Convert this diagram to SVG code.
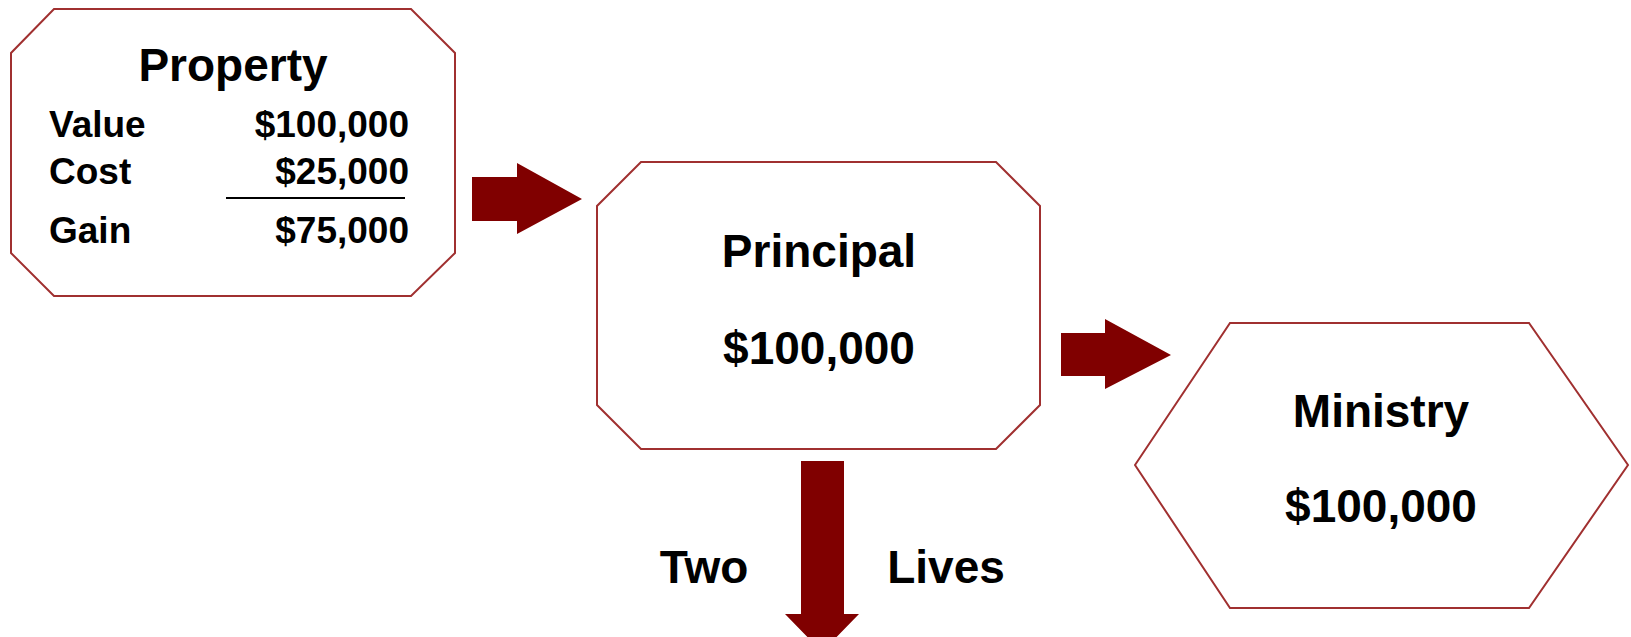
<svg xmlns="http://www.w3.org/2000/svg" width="1631" height="637" viewBox="0 0 1631 637">
<style>
.box{fill:#fff;stroke:#a03030;stroke-width:2}
.t{font-family:"Liberation Sans",Arial,sans-serif;font-weight:bold;fill:#000}
.big{font-size:46px}
.small{font-size:37px}
.arrow{fill:#800000}
</style>
<rect width="1631" height="637" fill="#fff"/>
<g id="property">
<polygon class="box" points="54,9 411,9 455,53 455,253 411,296 54,296 11,253 11,53"/>
<text class="t big" x="233" y="81" text-anchor="middle">Property</text>
<text class="t small" x="49" y="137">Value</text>
<text class="t small" x="409" y="137" text-anchor="end">$100,000</text>
<text class="t small" x="49" y="184">Cost</text>
<text class="t small" x="409" y="184" text-anchor="end">$25,000</text>
<line x1="226" y1="198" x2="405" y2="198" stroke="#000" stroke-width="2"/>
<text class="t small" x="49" y="243">Gain</text>
<text class="t small" x="409" y="243" text-anchor="end">$75,000</text>
</g>
<g id="principal">
<polygon class="box" points="641,162 996,162 1040,206 1040,405 996,449 641,449 597,405 597,206"/>
<text class="t big" x="819" y="267" text-anchor="middle">Principal</text>
<text class="t big" x="819" y="364" text-anchor="middle">$100,000</text>
</g>
<g id="ministry">
<polygon class="box" points="1135,465 1230,323 1529,323 1628,465 1529,608 1230,608"/>
<text class="t big" x="1381" y="427" text-anchor="middle">Ministry</text>
<text class="t big" x="1381" y="522" text-anchor="middle">$100,000</text>
</g>
<g id="connectors">
<polygon class="arrow" points="472,177 517,177 517,163 582,199 517,234 517,221 472,221"/>
<polygon class="arrow" points="1061,333 1105,333 1105,319 1171,355 1105,389 1105,376 1061,376"/>
<polygon class="arrow" points="801,461 844,461 844,614 859,614 822,652 785,614 801,614"/>
<text class="t big" x="704" y="583" text-anchor="middle">Two</text>
<text class="t big" x="946" y="583" text-anchor="middle">Lives</text>
</g>
</svg>
